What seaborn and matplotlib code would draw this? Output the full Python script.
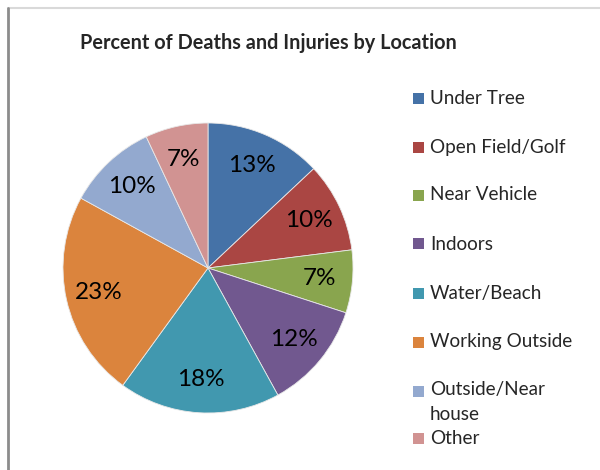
import matplotlib
matplotlib.use("Agg")
import matplotlib.pyplot as plt
import seaborn as sns
from matplotlib.patches import Rectangle
from matplotlib.lines import Line2D

# data
locations = ["Under Tree", "Open Field/Golf", "Near Vehicle", "Indoors",
             "Water/Beach", "Working Outside", "Outside/Near\nhouse", "Other"]
percents = [13, 10, 7, 12, 18, 23, 10, 7]
slice_colors = ["#4572A7", "#AA4643", "#89A54E", "#71588F",
                "#4198AF", "#DB843D", "#93A9CF", "#D19392"]

sns.set_theme(style="white")
plt.rcParams['font.family'] = ['Lato', 'DejaVu Sans']

W, H = 600, 470
fig = plt.figure(figsize=(6, 4.7), dpi=100)

# pie centre ~(208, 268) px, radius ~145 px
cx, cy, r = 208, 268, 145
ax = fig.add_axes([(cx - r) / W, (H - cy - r) / H, 2 * r / W, 2 * r / H])
wedges, texts, autotexts = ax.pie(
    percents, colors=slice_colors, startangle=90, counterclock=False,
    autopct="%d%%", pctdistance=0.77, radius=1,
    wedgeprops=dict(edgecolor="#e8e8e8", linewidth=0.6),
    textprops=dict(fontsize=17.5, color="black"))
ax.set_xlim(-1, 1)
ax.set_ylim(-1, 1)
ax.set_aspect("equal")
ax.axis("off")

fig.text(268 / W, 1 - 43 / H, "Percent of Deaths and Injuries by Location",
         ha="center", va="center", fontsize=14.3, fontweight="bold")

# legend drawn by hand to keep Excel's spacing
row_y = [98, 147, 195, 244, 293, 342, 391, 438]
for lab, col, y in zip(locations, slice_colors, row_y):
    fig.add_artist(Rectangle((413 / W, 1 - (y + 5.5) / H), 11 / W, 11 / H,
                             transform=fig.transFigure, facecolor=col,
                             edgecolor="none"))
    if "\n" in lab:
        fig.text(430 / W, 1 - (y - 10) / H, lab, ha="left", va="top",
                 fontsize=13.6, linespacing=1.6)
    else:
        fig.text(430 / W, 1 - y / H, lab, ha="left", va="center", fontsize=13.6)

# frame edges of the original chart area
fig.add_artist(Line2D([8 / W, 1], [1 - 8 / H, 1 - 8 / H], transform=fig.transFigure,
                      color="#d9d9d9", linewidth=1.5))
fig.add_artist(Line2D([8 / W, 8 / W], [0, 1 - 8 / H], transform=fig.transFigure,
                      color="#8c8c8c", linewidth=2))

fig.savefig("out.png", dpi=100)
